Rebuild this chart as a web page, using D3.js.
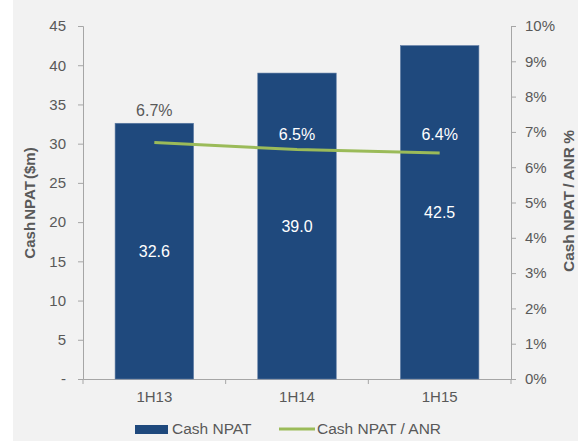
<!DOCTYPE html>
<html>
<head>
<meta charset="utf-8">
<script src="https://cdn.jsdelivr.net/npm/d3@7"></script>
<style>
  html, body { margin: 0; padding: 0; background: #fff; }
  svg { display: block; font-family: Arial, "Liberation Sans", sans-serif; }
</style>
</head>
<body>
<div id="chart"></div>
<script>
// --- Data ---
const categories = ["1H13", "1H14", "1H15"];
const cashNpat = [32.6, 39.0, 42.5];
const npatAnr = [6.7, 6.5, 6.4];
const pctLabelOffset = [-32, -15, -19]; // label nudges as in the source chart
const leftTicks = [0, 5, 10, 15, 20, 25, 30, 35, 40, 45];
const rightTicks = [0, 1, 2, 3, 4, 5, 6, 7, 8, 9, 10];

const width = 578, height = 441;
const margin = { top: 26, right: 67, bottom: 62, left: 83 };

const svg = d3.select("#chart").append("svg")
    .attr("width", width)
    .attr("height", height);

// grey panel (white strip on the left)
svg.append("rect")
    .attr("x", 13).attr("y", 0)
    .attr("width", width - 13).attr("height", height)
    .attr("fill", "#f2f2f2");

const x = d3.scaleBand()
    .domain(categories)
    .range([margin.left, width - margin.right])
    .paddingInner(0.45)
    .paddingOuter(0.225);

const yL = d3.scaleLinear().domain([0, 45]).range([height - margin.bottom, margin.top]);
const yR = d3.scaleLinear().domain([0, 10]).range([height - margin.bottom, margin.top]);

const axisColor = "#a6a6a6";
const textColor = "#595959";

// left axis
const gL = svg.append("g")
    .attr("transform", `translate(${margin.left},0)`)
    .call(d3.axisLeft(yL).tickValues(leftTicks).tickSize(5).tickPadding(12)
        .tickFormat(d => d === 0 ? "-" : d));

// right axis
const gR = svg.append("g")
    .attr("transform", `translate(${width - margin.right},0)`)
    .call(d3.axisRight(yR).tickValues(rightTicks).tickSize(5).tickPadding(9)
        .tickFormat(d => d + "%"));

// bottom axis
const gB = svg.append("g")
    .attr("transform", `translate(0,${height - margin.bottom})`)
    .call(d3.axisBottom(x).tickSize(0).tickPadding(12));

// category boundary ticks
const catW = (width - margin.right - margin.left) / categories.length;
gB.selectAll("line.sep")
    .data(d3.range(categories.length + 1))
    .enter().append("line")
    .attr("class", "sep")
    .attr("x1", i => margin.left + i * catW)
    .attr("x2", i => margin.left + i * catW)
    .attr("y1", 0).attr("y2", 5)
    .attr("stroke", axisColor);

[gL, gR, gB].forEach(g => {
    g.select(".domain").attr("stroke", axisColor);
    g.selectAll(".tick line").attr("stroke", axisColor);
    g.selectAll("text").attr("fill", textColor).style("font-size", "15px");
});

// bars
svg.append("g").selectAll("rect")
    .data(cashNpat)
    .enter().append("rect")
    .attr("x", (d, i) => x(categories[i]))
    .attr("y", d => yL(d))
    .attr("width", x.bandwidth())
    .attr("height", d => yL(0) - yL(d))
    .attr("fill", "#1f497d")
    .attr("stroke", "#5c7aa3")
    .attr("stroke-width", 0.6);

// bar value labels
svg.append("g").selectAll("text")
    .data(cashNpat)
    .enter().append("text")
    .attr("x", (d, i) => x(categories[i]) + x.bandwidth() / 2)
    .attr("y", d => yL(d / 2))
    .attr("dy", "0.35em")
    .attr("text-anchor", "middle")
    .attr("fill", "#fff")
    .style("font-size", "16px")
    .text(d => d.toFixed(1));

// line
const line = d3.line()
    .x((d, i) => x(categories[i]) + x.bandwidth() / 2)
    .y(d => yR(d));

svg.append("path")
    .datum(npatAnr)
    .attr("d", line)
    .attr("fill", "none")
    .attr("stroke", "#9bbb59")
    .attr("stroke-width", 3);

svg.append("g").selectAll("text")
    .data(npatAnr)
    .enter().append("text")
    .attr("x", (d, i) => x(categories[i]) + x.bandwidth() / 2)
    .attr("y", (d, i) => yR(d) + pctLabelOffset[i])
    .attr("dy", "0.35em")
    .attr("text-anchor", "middle")
    .attr("fill", (d, i) => i === 0 ? textColor : "#fff")
    .style("font-size", "16px")
    .text(d => d.toFixed(1) + "%");

// axis titles
svg.append("text")
    .attr("transform", `translate(30,203) rotate(-90)`)
    .attr("text-anchor", "middle")
    .attr("dy", "0.35em")
    .attr("fill", textColor)
    .style("font-size", "15px")
    .style("font-weight", "bold")
    .style("word-spacing", "-2px")
    .text("Cash NPAT ($m)");

svg.append("text")
    .attr("transform", `translate(569,201) rotate(-90)`)
    .attr("text-anchor", "middle")
    .attr("dy", "0.35em")
    .attr("fill", textColor)
    .style("font-size", "15.5px")
    .style("font-weight", "bold")
    .style("word-spacing", "-1px")
    .text("Cash NPAT / ANR %");

// legend
const legend = svg.append("g").attr("transform", "translate(135,429)");
legend.append("rect")
    .attr("x", 0).attr("y", -4)
    .attr("width", 33).attr("height", 9)
    .attr("fill", "#1f497d");
legend.append("text")
    .attr("x", 37).attr("y", 0).attr("dy", "0.35em")
    .attr("fill", textColor)
    .style("font-size", "15.5px")
    .text("Cash NPAT");
legend.append("line")
    .attr("x1", 144).attr("x2", 180)
    .attr("y1", 0).attr("y2", 0)
    .attr("stroke", "#9bbb59").attr("stroke-width", 3);
legend.append("text")
    .attr("x", 182).attr("y", 0).attr("dy", "0.35em")
    .attr("fill", textColor)
    .style("font-size", "15.5px")
    .text("Cash NPAT / ANR");
</script>
</body>
</html>
